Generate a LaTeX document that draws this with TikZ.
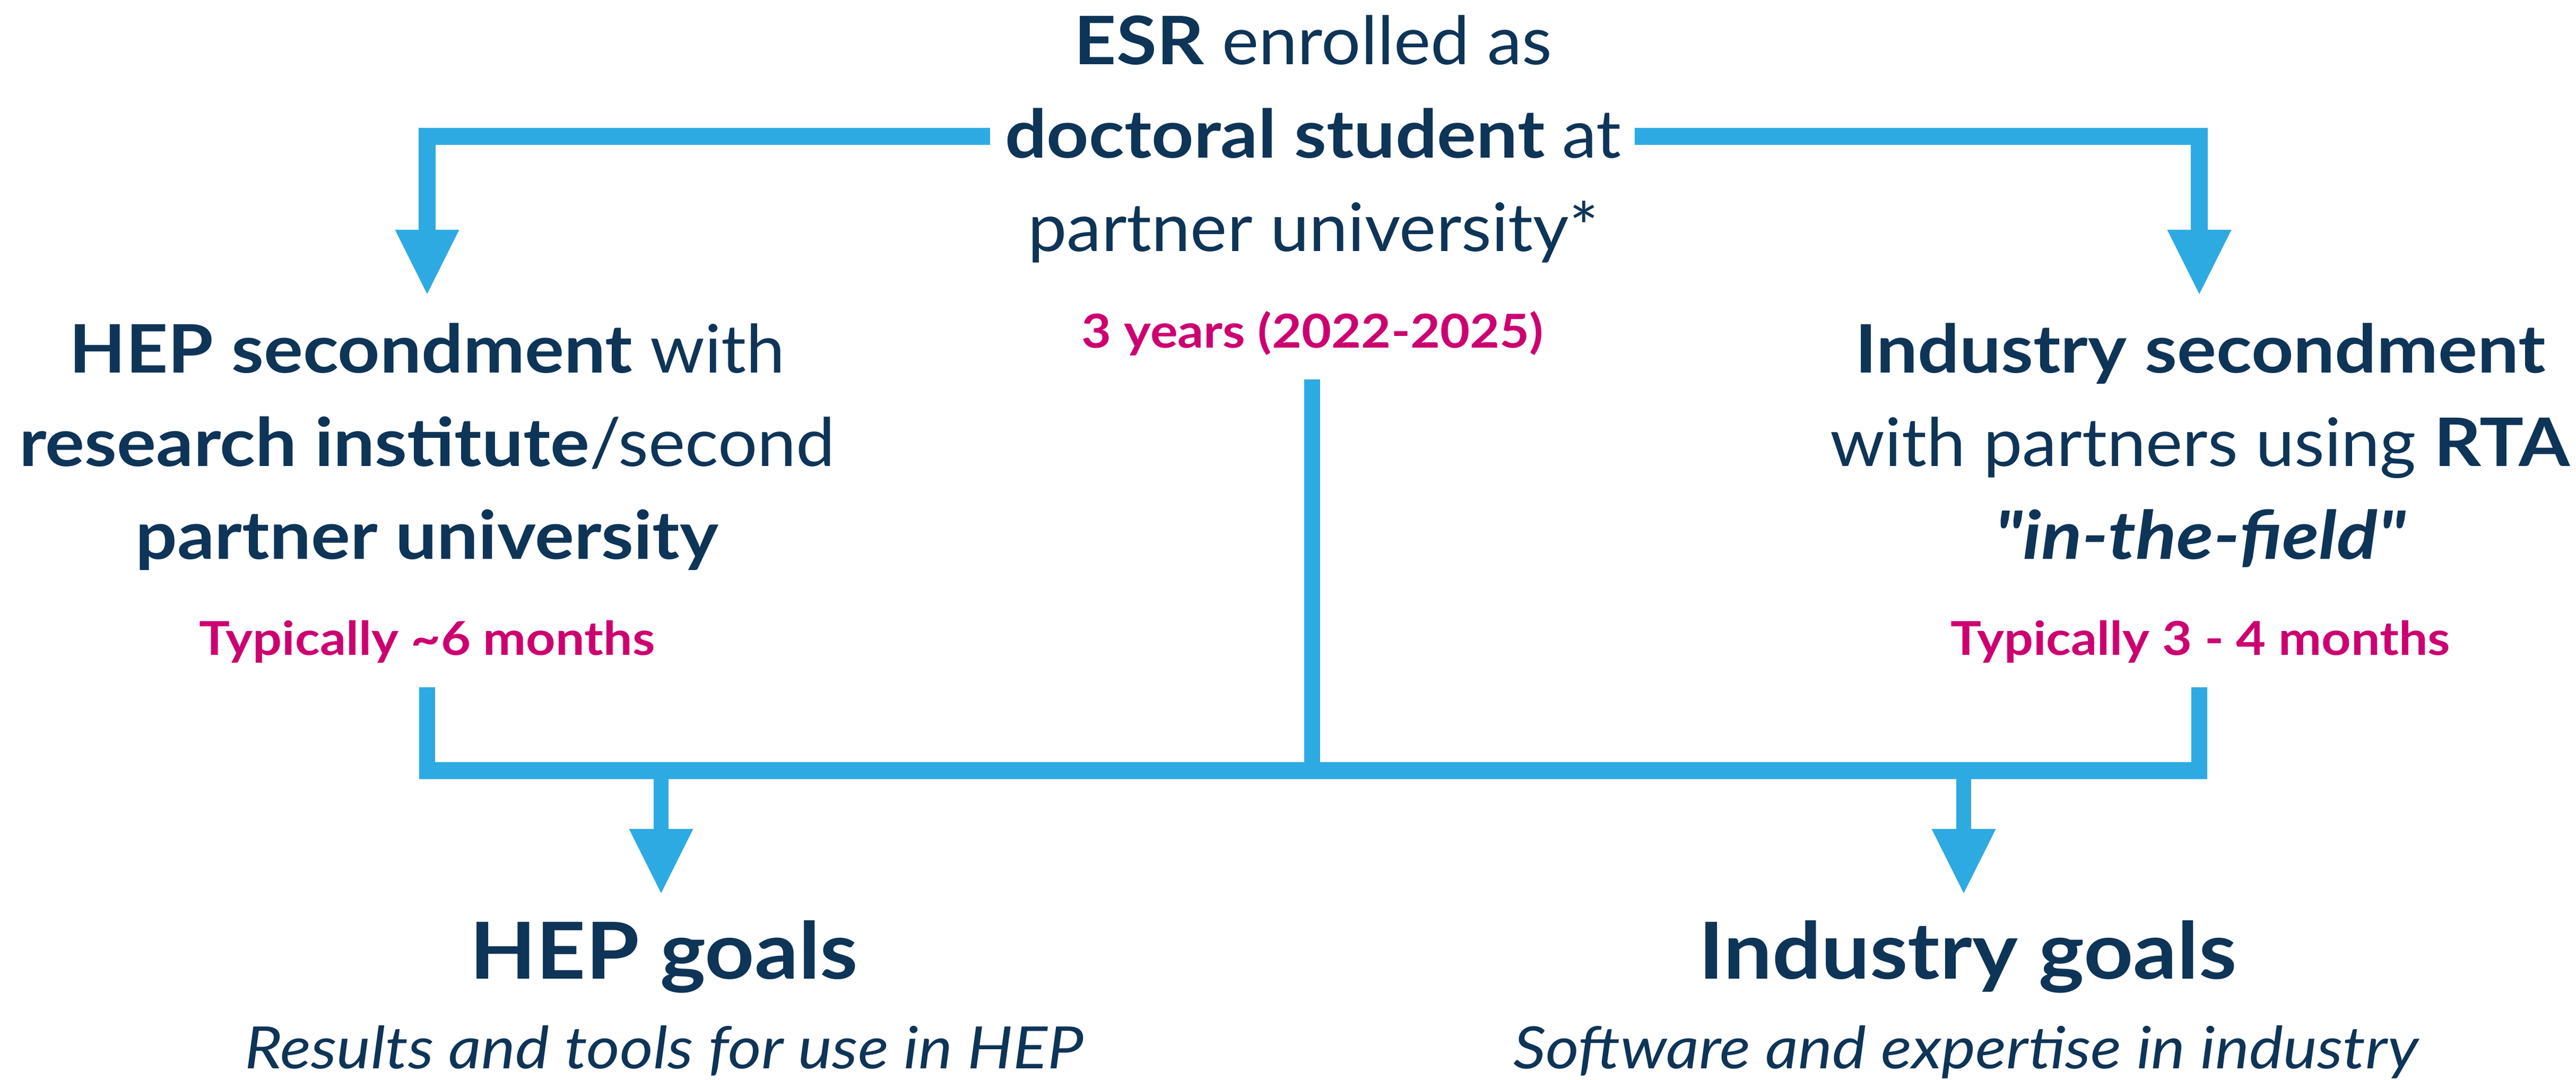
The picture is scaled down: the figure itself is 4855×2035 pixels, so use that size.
\documentclass[tikz,border=0pt]{standalone}
\usepackage{fontspec}
\setmainfont{Lato}[Ligatures=TeXOff,
  UprightFeatures={FakeStretch=1.04},
  BoldFeatures={FakeStretch=1.10},
  ItalicFeatures={FakeStretch=1.10},
  BoldItalicFeatures={FakeStretch=1.13}]
\usetikzlibrary{arrows.meta}
\definecolor{navy}{RGB}{14,52,87}
\definecolor{sky}{RGB}{46,170,226}
\definecolor{mag}{RGB}{204,0,112}
\tikzset{
  txt/.style={anchor=base, inner sep=0pt, outer sep=0pt, text=navy,
    font=\fontsize{12.6pt}{15pt}\selectfont},
  dur/.style={txt, text=mag, font=\fontsize{8.8pt}{10pt}\selectfont\bfseries},
  goal/.style={txt, font=\fontsize{14.8pt}{18pt}\selectfont\bfseries},
  sub/.style={txt, font=\fontsize{11pt}{13pt}\selectfont\itshape},
  flow/.style={draw=sky, line width=3.2pt, line join=miter},
  thin/.style={draw=sky, line width=3pt},
  tipped/.style={-{Triangle[length=12.1pt,width=12.1pt,line width=0pt]}}
}
\begin{document}
\begin{tikzpicture}[x=0.1pt,y=-0.1pt]
\fill[white] (0,0) rectangle (4855,2035);
\useasboundingbox (0,0) rectangle (4855,2035);

% top block
\node[txt] (t1) at (2475,122) {\textbf{ESR} enrolled as};
\node[txt] (t2) at (2475,298) {\textbf{doctoral student} at};
\node[txt] (t3) at (2475,474) {partner university*};
\node[dur] (t4) at (2474,656) {3 years (2022-2025)};

% left block
\node[txt] (h1) at (805,703) {\textbf{HEP secondment} with};
\node[txt] (h2) at (805,879) {\textbf{research institute}/second};
\node[txt] (h3) at (805,1054) {\textbf{partner university}};
\node[dur] (h4) at (805,1235) {Typically \textasciitilde6 months};

% right block
\node[txt] (i1) at (4147,703) {\textbf{Industry secondment}};
\node[txt] (i2) at (4147,879) {with partners using \textbf{RTA}};
\node[txt] (i3) at (4147,1054) {\textbf{\itshape "in-the-field"}};
\node[dur] (i4) at (4147,1235) {Typically 3 - 4 months};

% goals
\node[goal] (g1) at (1251,1845) {HEP goals};
\node[goal] (g2) at (3708,1845) {Industry goals};
\node[sub] (s1) at (1252,2014) {Results and tools for use in HEP};
\node[sub] (s2) at (3705,2014) {Software and expertise in industry};

% connector points
\coordinate (La) at (1866,257);
\coordinate (Lc) at (805,257);
\coordinate (Lt) at (805,554);
\coordinate (Ra) at (3081,257);
\coordinate (Rc) at (4145,257);
\coordinate (Rt) at (4145,554);
\coordinate (Lb0) at (805,1295);
\coordinate (Lb1) at (805,1468);
\coordinate (Rb0) at (4145,1295);
\coordinate (Rb1) at (4145,1468);
\coordinate (M0) at (2473,715);
\coordinate (M1) at (2473,1452);
\coordinate (B0) at (790,1452);
\coordinate (B1) at (4160,1452);
\coordinate (G1a) at (1246,1468);
\coordinate (G1t) at (1246,1683);
\coordinate (G2a) at (3701,1468);
\coordinate (G2t) at (3701,1683);

\draw[flow,tipped] (La) -- (Lc) -- (Lt);
\draw[flow,tipped] (Ra) -- (Rc) -- (Rt);
\draw[thin] (Lb0) -- (Lb1);
\draw[thin] (Rb0) -- (Rb1);
\draw[thin] (M0) -- (M1);
\draw[flow] (B0) -- (B1);
\draw[thin,line width=2.8pt,tipped] (G1a) -- (G1t);
\draw[thin,line width=2.8pt,tipped] (G2a) -- (G2t);
\end{tikzpicture}
\end{document}
